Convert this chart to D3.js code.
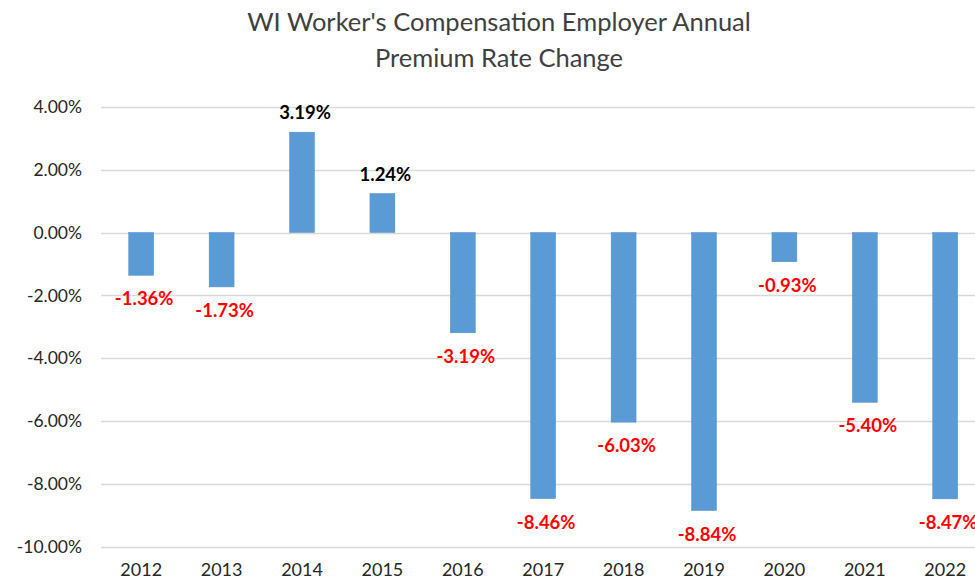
<!doctype html>
<html>
<head>
<meta charset="utf-8">
<script src="https://d3js.org/d3.v7.min.js"></script>
<style>
  body { margin: 0; background: #fff; }
  text { font-family: Lato, "Open Sans", sans-serif; }
</style>
</head>
<body>
<div id="chart"></div>
<script>
  var years = ["2012", "2013", "2014", "2015", "2016", "2017", "2018", "2019", "2020", "2021", "2022"];
  var changes = [-1.36, -1.73, 3.19, 1.24, -3.19, -8.46, -6.03, -8.84, -0.93, -5.40, -8.47];
  var yTicks = [4, 2, 0, -2, -4, -6, -8, -10];
  var titleLines = ["WI Worker's Compensation Employer Annual", "Premium Rate Change"];

  var width = 975, height = 582;
  var svg = d3.select("#chart").append("svg")
    .attr("width", width)
    .attr("height", height);

  // scales
  var x = d3.scaleBand()
    .domain(years)
    .range([101, 101 + 11 * 80.4])
    .paddingInner(0.69)
    .paddingOuter(0.345);

  var y = d3.scaleLinear()
    .domain([-10, 4])
    .range([547, 106.7]);

  // title
  svg.selectAll(".title")
    .data(titleLines)
    .enter().append("text")
    .attr("x", 499)
    .attr("y", function(d, i) { return 31 + i * 36; })
    .attr("text-anchor", "middle")
    .attr("font-size", 25.5)
    .attr("font-weight", 400)
    .attr("fill", "#3f3f3f")
    .text(function(d) { return d; });

  // grid lines
  svg.append("g")
    .selectAll("line")
    .data(yTicks)
    .enter().append("line")
    .attr("x1", 101)
    .attr("x2", 990)
    .attr("y1", function(d) { return Math.round(y(d)) + 0.5; })
    .attr("y2", function(d) { return Math.round(y(d)) + 0.5; })
    .attr("stroke", "#d9d9d9")
    .attr("stroke-width", 1.5);

  // y axis
  var yAxis = svg.append("g")
    .attr("transform", "translate(82,0)")
    .call(d3.axisLeft(y).tickValues(yTicks).tickSize(0).tickPadding(0)
      .tickFormat(function(d) { return d.toFixed(2) + "%"; }));
  yAxis.select(".domain").remove();
  yAxis.selectAll("text")
    .attr("font-size", 17.5)
    .attr("fill", "#262626")
    .attr("font-family", "Lato, 'Open Sans', sans-serif");

  // x axis
  var xAxis = svg.append("g")
    .attr("transform", "translate(0,563)")
    .call(d3.axisBottom(x).tickSize(0).tickPadding(0));
  xAxis.select(".domain").remove();
  xAxis.selectAll("text")
    .attr("font-size", 18)
    .attr("fill", "#262626")
    .attr("font-family", "Lato, 'Open Sans', sans-serif");

  // bars
  svg.selectAll(".bar")
    .data(changes)
    .enter().append("rect")
    .attr("x", function(d, i) { return x(years[i]); })
    .attr("y", function(d) { return y(Math.max(0, d)); })
    .attr("width", x.bandwidth())
    .attr("height", function(d) { return Math.abs(y(d) - y(0)); })
    .attr("fill", "#5b9bd5")
    .attr("stroke", "#4f8fca")
    .attr("stroke-width", 0.5);

  // value labels
  svg.selectAll(".lbl")
    .data(changes)
    .enter().append("text")
    .attr("x", function(d, i) { return x(years[i]) + x.bandwidth() / 2 + 3; })
    .attr("y", function(d) { return d >= 0 ? y(d) - 13 : y(d) + 30; })
    .attr("text-anchor", "middle")
    .attr("font-size", 18.5)
    .attr("font-weight", "bold")
    .attr("fill", function(d) { return d >= 0 ? "#000" : "#ff0000"; })
    .text(function(d) { return d.toFixed(2) + "%"; });
</script>
</body>
</html>
